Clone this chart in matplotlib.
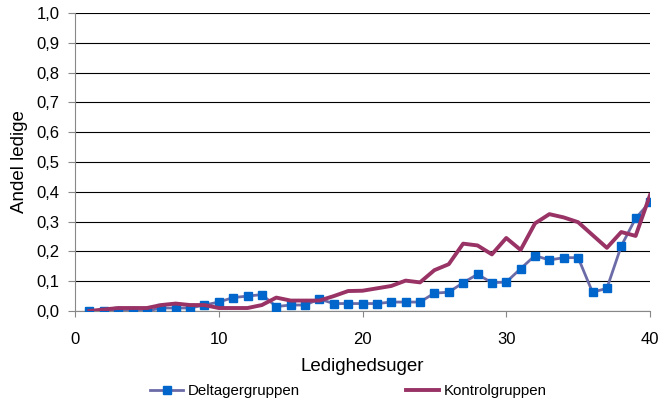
import matplotlib
matplotlib.use("Agg")
import matplotlib.pyplot as plt
from matplotlib.ticker import FuncFormatter

plt.rcParams['font.family'] = ['Liberation Sans', 'DejaVu Sans']

weeks = list(range(1, 41))
deltager = [0.0, 0.0, 0.0, 0.0, 0.0, 0.01, 0.01, 0.01, 0.02, 0.03,
            0.045, 0.05, 0.055, 0.015, 0.02, 0.02, 0.04, 0.025, 0.025, 0.025,
            0.025, 0.03, 0.03, 0.03, 0.06, 0.063, 0.095, 0.123, 0.095, 0.097,
            0.142, 0.186, 0.171, 0.179, 0.179, 0.063, 0.076, 0.218, 0.311, 0.366]
kontrol = [0.0, 0.005, 0.01, 0.01, 0.01, 0.02, 0.025, 0.02, 0.02, 0.01,
           0.01, 0.01, 0.02, 0.045, 0.035, 0.035, 0.035, 0.05, 0.067, 0.068,
           0.076, 0.084, 0.102, 0.096, 0.137, 0.157, 0.226, 0.22, 0.19, 0.245,
           0.205, 0.294, 0.325, 0.314, 0.298, 0.255, 0.212, 0.265, 0.252, 0.389]
x_ticks = [0, 10, 20, 30, 40]
y_ticks = [i / 10 for i in range(11)]

fig = plt.figure(figsize=(6.61, 4.13), dpi=100)
ax = fig.add_axes([75 / 661, 1 - 311 / 413, 575 / 661, 298 / 413])

ax.plot(weeks, deltager, color='#6B6BA8', lw=2, marker='s', ms=5.5,
        mfc='#0066CC', mec='#0066CC', label='Deltagergruppen', zorder=3)
ax.plot(weeks, kontrol, color='#993366', lw=2.8, label='Kontrolgruppen', zorder=3)

ax.set_xlim(0, 40)
ax.set_ylim(0, 1.0)
ax.set_xticks(x_ticks)
ax.set_yticks(y_ticks)
ax.yaxis.set_major_formatter(FuncFormatter(lambda v, p: f"{v:.1f}".replace('.', ',')))
ax.grid(axis='y', color='black', lw=0.8)
ax.set_axisbelow(True)
for s in ['top', 'right']:
    ax.spines[s].set_visible(False)
ax.spines['left'].set_color('#888888')
ax.spines['bottom'].set_color('#888888')
ax.tick_params(axis='both', colors='#888888', labelcolor='black', labelsize=12)
ax.tick_params(axis='x', length=4.5, pad=10.5)
ax.tick_params(axis='y', length=5, pad=6)
ax.set_xlabel('Ledighedsuger', fontsize=13.5, labelpad=8)
ax.set_ylabel('Andel ledige', fontsize=13.5, labelpad=6)

fig.legend(loc='center', bbox_to_anchor=(0.527, 1 - 391 / 413), ncol=2, frameon=False,
           fontsize=10.8, columnspacing=7.1, handlelength=2.2, handletextpad=0.3)

fig.savefig('out.png', dpi=100)
